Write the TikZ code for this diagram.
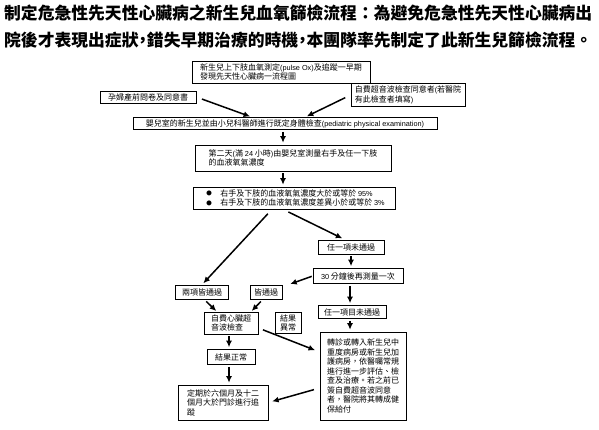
\documentclass[tikz,border=0pt]{standalone}
\usepackage{fontspec}
\setmainfont{Noto Sans CJK TC}
\newfontfamily\latsf{Liberation Sans}
\newcommand\latn{\latsf\fontsize{7.3}{9.5}\selectfont}
\newcommand\bulit{\makebox[17pt][l]{\hspace{3pt}\raisebox{0.5pt}{\fontsize{5.5}{6}\selectfont ●}}}
\newcommand\hcm{\makebox[0.5em][c]{，}}
\usetikzlibrary{arrows.meta,shadows}
\begin{document}
\begin{tikzpicture}[x=1pt,y=-1pt,
    box/.style={draw,line width=0.6pt,fill=white,inner sep=1.5pt,align=left,
      font=\fontsize{8}{9.5}\selectfont,
      drop shadow={shadow xshift=0.8pt,shadow yshift=-0.8pt,fill=black!70,opacity=1}},
    arr/.style={-{Latex[length=6.5pt,width=6pt]},line width=1.5pt}]
  \useasboundingbox (0,0) rectangle (599,429);
  \path
    (4,13) node[anchor=west,inner sep=0,font=\fontsize{16.8}{20}\selectfont\bfseries] (title1){制定危急性先天性心臟病之新生兒血氧篩檢流程：為避免危急性先天性心臟病出}
    (4,40) node[anchor=west,inner sep=0,font=\fontsize{16.8}{20}\selectfont\bfseries] (title2){院後才表現出症狀\hcm 錯失早期治療的時機\hcm 本團隊率先制定了此新生兒篩檢流程。}
    (281,72) node[box,minimum width=178pt,minimum height=22pt] (top){新生兒上下肢血氧測定{\latn(pulse Ox)}及追蹤一早期\\發現先天性心臟病一流程圖}
    (148,97) node[box,minimum width=96pt,minimum height=12pt] (mom){孕婦產前問卷及同意書}
    (408,95) node[box,minimum width=114pt,minimum height=23pt] (selfpay){自費超音波檢查同意者{\latn(}若醫院\\有此檢查者填寫{\latn)}}
    (285,123.5) node[box,minimum width=304pt,minimum height=12pt] (exam){嬰兒室的新生兒並由小兒科醫師進行既定身體檢查{\latn(pediatric physical examination)}}
    (293,158) node[box,minimum width=196pt,minimum height=26pt] (oxy){第二天{\latn(}滿 {\latn 24} 小時{\latn)}由嬰兒室測量右手及任一下肢\\的血液氧氣濃度}
    (294,198) node[box,minimum width=202pt,minimum height=22pt] (crit){\bulit 右手及下肢的血液氧氣濃度大於或等於 {\latn 95\%}\\\bulit 右手及下肢的血液氧氣濃度差異小於或等於 {\latn 3\%}}
    (351,247) node[box,minimum width=66pt,minimum height=14pt] (fail1){任一項未通過}
    (358,276) node[box,minimum width=90pt,minimum height=15pt] (retest){{\latn 30} 分鐘後再測量一次}
    (202,292) node[box,minimum width=53pt,minimum height=14pt] (both){兩項皆通過}
    (266,292) node[box,minimum width=32pt,minimum height=14pt] (pass2){皆通過}
    (352,312) node[box,minimum width=68pt,minimum height=13pt] (fail2){任一項目未通過}
    (231,323) node[box,minimum width=54pt,minimum height=22pt] (echo){自費心臟超\\音波檢查}
    (288,323) node[box,minimum width=26pt,minimum height=21pt] (abn){結果\\異常}
    (363,376) node[box,minimum width=86pt,minimum height=88pt] (refer){轉診或轉入新生兒中\\重度病房或新生兒加\\護病房，依醫囑常規\\進行進一步評估、檢\\查及治療。若之前已\\簽自費超音波同意\\者，醫院將其轉成健\\保給付}
    (231,357) node[box,minimum width=48pt,minimum height=15pt] (normal){結果正常}
    (223,402.5) node[box,minimum width=90pt,minimum height=35pt] (follow){定期於六個月及十二\\個月大於門診進行追\\蹤};
  \begin{scope}[arr]
    \draw[shorten <=6pt,shorten >=2pt] (mom.east) -- ([xshift=-33pt]exam.north);
    \draw[shorten <=6pt,shorten >=2pt] (selfpay.west) -- ([xshift=20pt]exam.north);
    \draw[shorten <=2pt,shorten >=2pt] ([xshift=-2pt]exam.south) -- ([xshift=-2pt]exam.south |- oxy.north);
    \draw[shorten <=2pt,shorten >=2pt] ([xshift=-10pt]oxy.south) -- ([xshift=-10pt]oxy.south |- crit.north);
    \draw[shorten <=6pt,shorten >=2pt] ([xshift=-22pt]crit.south) -- (both.north);
    \draw[shorten <=6pt,shorten >=3pt] ([xshift=-11pt]crit.south) -- ([xshift=-6pt]fail1.north);
    \draw[shorten <=2pt,shorten >=2pt] (fail1.south) -- (fail1.south |- retest.north);
    \draw[shorten <=1pt,shorten >=2pt] (retest.west) -- ([xshift=6pt]pass2.north east);
    \draw[shorten <=2pt,shorten >=2pt] ([xshift=-8pt]retest.south) -- ([xshift=-8pt]retest.south |- fail2.north);
    \draw[shorten <=3pt,shorten >=1pt] ([xshift=2pt]both.south) -- ([xshift=-14pt]echo.north);
    \draw[shorten <=3pt,shorten >=1pt] ([xshift=-3pt]pass2.south) -- ([xshift=20pt]echo.north);
    \draw[shorten <=5pt,shorten >=5pt] ([yshift=-5pt]echo.east) -- ([yshift=24pt]refer.west);
    \draw[shorten <=2pt,shorten >=2pt] ([xshift=-2pt]echo.south) -- ([xshift=-2pt]echo.south |- normal.north);
    \draw[shorten <=2pt,shorten >=2pt] ([xshift=-2pt]normal.south) -- ([xshift=-2pt]normal.south |- follow.north);
    \draw[shorten <=2pt,shorten >=2pt] ([xshift=-2pt]fail2.south) -- ([xshift=-2pt]fail2.south |- refer.north);
    \draw[shorten <=6pt,shorten >=4pt] ([yshift=-12pt]refer.west) -- (follow.east);
  \end{scope}
\end{tikzpicture}
\end{document}
